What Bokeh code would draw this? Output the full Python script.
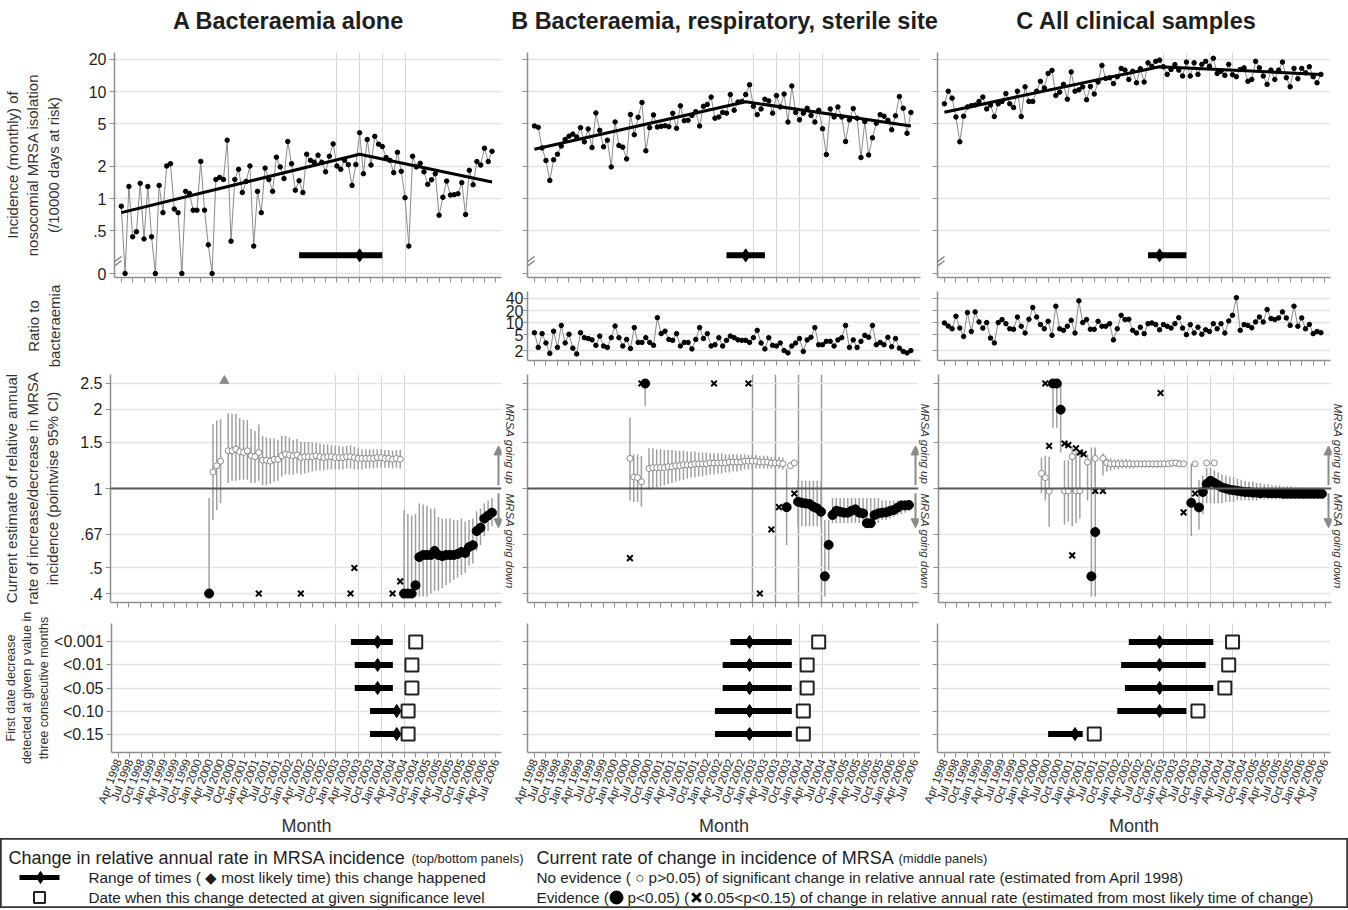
import math
from bokeh.plotting import figure
from bokeh.layouts import column, row
from bokeh.models import FixedTicker, Span, Arrow, NormalHead, Range1d, LinearAxis
from bokeh.embed import file_html
from bokeh.resources import INLINE
from bokeh.core.properties import value

# ---------------------------------------------------------------- data
MONTH_TICKS = list(range(0, 100, 3))
MONTH_LABELS = ["Apr 1998", "Jul 1998", "Oct 1998", "Jan 1999", "Apr 1999", "Jul 1999",
                "Oct 1999", "Jan 2000", "Apr 2000", "Jul 2000", "Oct 2000", "Jan 2001",
                "Apr 2001", "Jul 2001", "Oct 2001", "Jan 2002", "Apr 2002", "Jul 2002",
                "Oct 2002", "Jan 2003", "Apr 2003", "Jul 2003", "Oct 2003", "Jan 2004",
                "Apr 2004", "Jul 2004", "Oct 2004", "Jan 2005", "Apr 2005", "Jul 2005",
                "Oct 2005", "Jan 2006", "Apr 2006", "Jul 2006"]
GRID_MONTHS = [57, 63, 69, 75]
MONTHS = list(range(99))

TITLES = ["A Bacteraemia alone", "B Bacteraemia, respiratory, sterile site", "C All clinical samples"]

INC_A = [0.85, 0, 1.30, 0.44, 0.49, 1.39, 0.42, 1.30, 0.44, 0,
         1.33, 0.74, 2.02, 2.12, 0.80, 0.74, 0, 1.17, 1.12, 0.78,
         0.78, 2.23, 0.78, 0.37, 0, 1.51, 1.58, 1.51, 3.52, 0.40,
         1.51, 1.88, 1.14, 1.45, 2.02, 0.36, 1.17, 0.74, 1.93, 1.51,
         1.17, 2.44, 1.98, 1.54, 3.42, 2.12, 1.20, 1.47, 1.14, 2.60,
         2.28, 2.19, 2.55, 2.19, 1.78, 2.49, 3.25, 2.02, 1.88, 2.28,
         2.08, 1.33, 2.08, 4.13, 1.71, 3.57, 2.06, 3.82, 3.23, 3.07,
         2.42, 2.28, 1.75, 2.71, 1.80, 1.02, 0.36, 2.49, 1.98, 2.14,
         1.78, 1.36, 1.50, 1.71, 0.70, 1.03, 1.46, 1.08, 1.09, 1.11,
         1.41, 0.71, 1.84, 1.35, 2.22, 2.06, 2.96, 2.22, 2.77]
INC_B = [4.78, 4.64, 2.98, 2.27, 1.48, 2.31, 2.60, 3.10, 3.57, 3.84,
         4.01, 3.76, 4.61, 3.40, 4.48, 3.00, 6.33, 4.35, 3.05, 3.52,
         1.98, 5.21, 3.14, 3.03, 2.35, 6.12, 3.96, 5.77, 7.93, 2.80,
         4.61, 6.06, 4.67, 4.74, 4.81, 4.71, 6.28, 4.54, 7.37, 5.36,
         5.40, 6.00, 6.50, 4.78, 7.30, 7.60, 8.90, 5.65, 5.80, 6.40,
         6.30, 9.40, 6.70, 8.00, 8.10, 9.40, 11.6, 7.30, 6.10, 6.90,
         8.50, 8.20, 6.30, 9.20, 7.20, 9.50, 5.20, 11.3, 6.40, 5.45,
         6.30, 7.00, 6.00, 5.20, 6.70, 4.50, 2.58, 6.90, 5.80, 7.20,
         5.80, 3.42, 5.45, 6.95, 5.65, 2.42, 5.25, 2.56, 3.70, 5.07,
         6.10, 5.90, 5.40, 4.40, 5.95, 9.00, 7.00, 4.08, 6.40]
INC_C = [7.7, 10.1, 8.7, 5.8, 3.4, 5.9, 7.2, 7.4, 7.5, 8.1,
         8.9, 6.9, 7.5, 5.85, 7.7, 8.1, 9.6, 7.7, 7.1, 10.1,
         5.85, 11.1, 8.1, 8.1, 10.1, 12.5, 10.8, 14.8, 15.8, 9.2,
         9.9, 11.7, 8.5, 15.3, 10.1, 10.4, 11.1, 8.4, 11.2, 9.5,
         12.3, 17.6, 13.3, 13.5, 11.9, 13.8, 16.5, 15.9, 13.0, 15.5,
         12.1, 16.4, 12.3, 18.6, 17.3, 19.2, 19.7, 17.1, 14.5, 16.1,
         17.9, 15.9, 14.0, 18.9, 14.0, 18.6, 14.5, 18.0, 19.2, 17.3,
         20.5, 14.8, 15.5, 14.2, 18.0, 14.4, 13.8, 16.1, 16.7, 12.5,
         13.0, 19.2, 16.7, 14.0, 11.7, 15.9, 13.0, 15.9, 18.9, 13.5,
         11.1, 16.5, 13.2, 16.5, 15.0, 17.1, 13.8, 12.1, 14.5]

FIT_A_M, FIT_A_V = [0, 63, 98], [0.74, 2.60, 1.43]
FIT_B_M, FIT_B_V = [0, 55, 98], [2.90, 8.05, 4.78]
FIT_C_M, FIT_C_V = [0, 56, 98], [6.43, 17.1, 14.5]
# change-point range (low, most likely, high) in months since Apr 1998
TOPBAR_A = [47, 63, 69]
TOPBAR_B = [50, 55, 60]
TOPBAR_C = [53, 56, 63]

RATIO_B = [5.6, 2.4, 5.3, 3.1, 1.7, 6.1, 2.4, 8.5, 3.1, 5.1,
           2.3, 1.65, 5.6, 4.2, 4.0, 3.7, 2.7, 4.6, 2.6, 2.4,
           4.2, 8.2, 4.2, 2.6, 3.8, 2.25, 7.5, 3.2, 3.2, 4.2,
           3.2, 2.7, 13.3, 5.3, 6.1, 3.8, 3.6, 5.3, 2.6, 3.2,
           3.2, 2.2, 3.8, 7.5, 4.0, 5.3, 2.6, 2.8, 4.2, 2.6,
           3.6, 4.6, 4.2, 3.7, 3.6, 3.6, 3.2, 4.2, 6.4, 3.1,
           2.2, 4.2, 2.7, 2.6, 3.1, 2.0, 1.75, 2.6, 3.1, 4.0,
           1.9, 3.7, 4.3, 7.5, 2.8, 2.8, 3.4, 3.4, 2.6, 3.7,
           4.2, 8.5, 2.4, 3.7, 2.4, 3.4, 4.8, 4.3, 8.5, 2.8,
           3.2, 2.8, 4.3, 2.5, 4.0, 2.3, 1.9, 1.75, 2.0]
RATIO_C = [9.8, 8.2, 7.0, 14.4, 7.3, 4.5, 17.8, 6.0, 18.5, 10.4,
           7.3, 10.0, 4.1, 3.1, 10.0, 11.9, 9.4, 7.0, 6.8, 13.8,
           8.1, 5.5, 12.1, 23.8, 13.8, 8.9, 7.0, 10.8, 4.8, 25.7,
           7.0, 6.4, 8.1, 11.4, 5.5, 35.0, 10.0, 11.9, 6.8, 6.8,
           10.8, 8.1, 8.1, 9.4, 3.7, 7.0, 15.2, 11.9, 12.1, 6.4,
           5.5, 7.7, 5.3, 9.4, 9.8, 8.9, 6.6, 8.9, 8.1, 7.3,
           9.4, 13.3, 7.3, 5.0, 8.9, 5.5, 7.7, 5.1, 6.6, 6.0,
           9.4, 7.0, 9.4, 5.5, 11.0, 15.2, 41.9, 6.4, 8.9, 8.5,
           7.4, 10.4, 13.8, 10.4, 21.2, 12.6, 11.9, 13.1, 18.5, 13.1,
           8.5, 25.7, 8.1, 13.1, 7.0, 9.0, 5.3, 6.0, 5.6]

# ---- middle panels: current estimate of relative annual rate (pointwise 95% CI)
# A
MA_NO_M = [25, 26, 27, 29, 30, 31, 32, 33, 34, 35, 36, 37, 38, 39, 40, 41, 42, 43, 44, 45, 46,
           47, 48, 49, 50, 51, 52, 53, 54, 55, 56, 57, 58, 59, 60, 61, 62, 63, 64, 65, 66, 67,
           68, 69, 70, 71, 72, 73, 74]
MA_NO_V = [1.155, 1.22, 1.27, 1.39, 1.39, 1.41, 1.38, 1.37, 1.39, 1.33, 1.32, 1.37, 1.28, 1.28,
           1.27, 1.29, 1.29, 1.33, 1.35, 1.34, 1.33, 1.34, 1.31, 1.32, 1.32, 1.32, 1.33, 1.32,
           1.31, 1.32, 1.32, 1.31, 1.31, 1.31, 1.32, 1.32, 1.31, 1.30, 1.30, 1.30, 1.30, 1.30,
           1.31, 1.31, 1.30, 1.30, 1.29, 1.30, 1.29]
MA_NO_HI = [1.755, 1.81, 1.83, 1.93, 1.92, 1.92, 1.85, 1.82, 1.82, 1.68, 1.65, 1.75, 1.58, 1.56,
            1.55, 1.55, 1.53, 1.58, 1.58, 1.56, 1.53, 1.54, 1.50, 1.50, 1.50, 1.49, 1.49, 1.48,
            1.47, 1.47, 1.46, 1.45, 1.45, 1.44, 1.45, 1.46, 1.44, 1.42, 1.41, 1.41, 1.41, 1.41,
            1.41, 1.41, 1.40, 1.40, 1.39, 1.40, 1.40]
MA_NO_LO = [0.76, 0.83, 0.88, 1.05, 1.07, 1.07, 1.08, 1.08, 1.08, 1.05, 1.05, 1.07, 1.03, 1.03,
            1.04, 1.06, 1.07, 1.11, 1.13, 1.13, 1.13, 1.14, 1.13, 1.14, 1.15, 1.16, 1.17, 1.17,
            1.17, 1.18, 1.18, 1.18, 1.18, 1.18, 1.19, 1.19, 1.18, 1.18, 1.18, 1.19, 1.19, 1.19,
            1.20, 1.20, 1.20, 1.20, 1.19, 1.20, 1.19]
MA_EV_M = [24, 75, 76, 77, 78, 79, 80, 81, 82, 83, 84, 85, 86, 87, 88, 89, 90, 91, 92, 93, 94,
           95, 96, 97, 98]
MA_EV_V = [0.40, 0.40, 0.40, 0.40, 0.43, 0.55, 0.56, 0.56, 0.56, 0.58, 0.56, 0.555, 0.56, 0.56,
           0.56, 0.565, 0.575, 0.57, 0.60, 0.61, 0.69, 0.71, 0.77, 0.79, 0.81]
MA_EV_LO = [0.39, 0.39, 0.39, 0.39, 0.39, 0.39, 0.39, 0.39, 0.40, 0.41, 0.41, 0.42, 0.43, 0.44,
            0.45, 0.46, 0.47, 0.48, 0.51, 0.52, 0.58, 0.61, 0.66, 0.69, 0.72]
MA_EV_HI = [0.92, 0.83, 0.80, 0.79, 0.80, 0.88, 0.87, 0.86, 0.84, 0.84, 0.78, 0.77, 0.77, 0.77,
            0.76, 0.76, 0.77, 0.75, 0.76, 0.77, 0.82, 0.84, 0.88, 0.90, 0.92]
MA_X_M = [37, 48, 61, 62, 72, 74]
MA_X_V = [0.40, 0.40, 0.40, 0.50, 0.40, 0.445]
MA_OFF_M = [28]
MA_OFF_V = [2.56]
# B
MB_NO_M = [25, 26, 27, 28, 30, 31, 32, 33, 34, 35, 36, 37, 38, 39, 40, 41, 42, 43, 44, 45, 46,
           47, 48, 49, 50, 51, 52, 53, 54, 55, 56, 57, 58, 59, 60, 61, 62, 63, 64, 65, 67, 68]
MB_NO_V = [1.30, 1.106, 1.10, 1.06, 1.19, 1.20, 1.20, 1.20, 1.20, 1.21, 1.21, 1.22, 1.22, 1.23,
           1.23, 1.23, 1.24, 1.24, 1.24, 1.24, 1.25, 1.25, 1.25, 1.25, 1.25, 1.26, 1.26, 1.26,
           1.26, 1.27, 1.27, 1.27, 1.27, 1.26, 1.26, 1.26, 1.25, 1.25, 1.25, 1.24, 1.22, 1.25]
MB_NO_HI = [1.86, 1.35, 1.35, 1.33, 1.42, 1.42, 1.41, 1.41, 1.40, 1.40, 1.40, 1.39, 1.39, 1.39,
            1.38, 1.38, 1.38, 1.37, 1.37, 1.37, 1.36, 1.36, 1.36, 1.36, 1.35, 1.35, 1.35, 1.35,
            1.35, 1.35, 1.34, 1.34, 1.34, 1.33, 1.33, 1.33, 1.32, 1.32, 1.32, 1.31, 1.22, 1.25]
MB_NO_LO = [0.90, 0.89, 0.89, 0.853, 0.99, 1.00, 1.01, 1.02, 1.03, 1.04, 1.05, 1.06, 1.07, 1.08,
            1.09, 1.10, 1.10, 1.11, 1.11, 1.12, 1.13, 1.13, 1.14, 1.14, 1.15, 1.15, 1.16, 1.16,
            1.17, 1.18, 1.18, 1.19, 1.19, 1.19, 1.19, 1.19, 1.19, 1.19, 1.19, 1.18, 1.22, 1.25]
MB_EV_M = [29, 66, 69, 70, 71, 72, 73, 74, 75, 76, 77, 78, 79, 80, 81, 82, 83, 84, 85, 86, 87,
           88, 89, 90, 91, 92, 93, 94, 95, 96, 97, 98]
MB_EV_V = [2.50, 0.85, 0.891, 0.883, 0.878, 0.873, 0.853, 0.841, 0.817, 0.465, 0.612, 0.794,
           0.824, 0.817, 0.810, 0.810, 0.824, 0.834, 0.810, 0.805, 0.739, 0.739, 0.794, 0.805,
           0.810, 0.812, 0.822, 0.829, 0.846, 0.863, 0.863, 0.866]
MB_EV_HI = [2.50, 1.19, 1.07, 1.07, 1.07, 1.07, 1.07, 1.07, 1.07, 0.76, 0.76, 0.92, 0.92, 0.92,
            0.92, 0.92, 0.92, 0.92, 0.92, 0.92, 0.92, 0.92, 0.92, 0.92, 0.90, 0.90, 0.90, 0.90,
            0.90, 0.90, 0.90, 0.90]
MB_EV_LO = [2.06, 0.61, 0.72, 0.72, 0.72, 0.72, 0.72, 0.72, 0.72, 0.39, 0.49, 0.74, 0.74, 0.74,
            0.74, 0.74, 0.74, 0.74, 0.74, 0.74, 0.74, 0.74, 0.74, 0.74, 0.76, 0.76, 0.77, 0.78,
            0.79, 0.80, 0.81, 0.82]
MB_X_M = [25, 28, 47, 56, 59, 62, 64, 68]
MB_X_V = [0.545, 2.50, 2.50, 2.50, 0.40, 0.70, 0.85, 0.957]
# C
MC_NO_M = [25, 26, 27, 31, 32, 33, 34, 35, 37, 39, 41, 42, 43, 44, 45, 46, 47, 48, 49, 50, 51,
           52, 53, 54, 55, 56, 57, 58, 59, 60, 61, 62, 65, 68, 70]
MC_NO_V = [1.14, 1.10, 0.977, 0.98, 0.98, 1.32, 0.98, 0.98, 1.26, 1.30, 1.30, 1.25, 1.24, 1.24,
           1.24, 1.24, 1.24, 1.24, 1.24, 1.24, 1.24, 1.24, 1.24, 1.24, 1.24, 1.24, 1.24, 1.24,
           1.25, 1.25, 1.24, 1.24, 1.24, 1.25, 1.25]
MC_NO_HI = [1.31, 1.33, 1.32, 1.28, 1.28, 1.45, 1.38, 1.40, 1.35, 1.42, 1.36, 1.30, 1.30, 1.29,
            1.29, 1.29, 1.29, 1.29, 1.28, 1.28, 1.28, 1.28, 1.28, 1.28, 1.28, 1.28, 1.28, 1.28,
            1.28, 1.28, 1.28, 1.27, 1.24, 1.25, 1.25]
MC_NO_LO = [0.957, 0.90, 0.717, 0.73, 0.75, 0.72, 0.74, 0.77, 0.90, 1.05, 1.12, 1.16, 1.17, 1.18,
            1.18, 1.19, 1.19, 1.19, 1.19, 1.20, 1.20, 1.20, 1.20, 1.20, 1.20, 1.20, 1.21, 1.21,
            1.21, 1.21, 1.21, 1.21, 1.24, 1.25, 1.25]
MC_EV_M = [28, 29, 30, 38, 39, 64, 66, 67, 68, 69, 70, 71, 72, 73, 74, 75, 76, 77, 78, 79, 80,
           81, 82, 83, 84, 85, 86, 87, 88, 89, 90, 91, 92, 93, 94, 95, 96, 97, 98]
MC_EV_V = [2.50, 2.50, 1.99, 0.465, 0.684, 0.883, 0.848, 0.97, 1.04, 1.07, 1.05, 1.03, 1.01, 1.00,
           0.99, 0.985, 0.98, 0.975, 0.97, 0.97, 0.965, 0.965, 0.96, 0.965, 0.96, 0.96, 0.96,
           0.96, 0.955, 0.955, 0.955, 0.955, 0.955, 0.955, 0.955, 0.955, 0.955, 0.955, 0.955]
MC_EV_HI = [2.50, 2.50, 2.50, 1.43, 1.43, 1.24, 1.08, 1.12, 1.20, 1.20, 1.17, 1.15, 1.13, 1.12,
            1.11, 1.10, 1.09, 1.08, 1.07, 1.06, 1.06, 1.05, 1.05, 1.04, 1.04, 1.03, 1.03, 1.03,
            1.02, 1.02, 1.02, 1.01, 1.01, 1.01, 1.00, 1.00, 1.00, 1.00, 1.00]
MC_EV_LO = [1.70, 1.70, 1.37, 0.39, 0.39, 0.66, 0.70, 0.80, 0.88, 0.88, 0.88, 0.88, 0.88, 0.89,
            0.89, 0.89, 0.90, 0.90, 0.90, 0.90, 0.90, 0.90, 0.91, 0.91, 0.91, 0.91, 0.91, 0.91,
            0.91, 0.92, 0.92, 0.92, 0.92, 0.92, 0.92, 0.92, 0.92, 0.92, 0.92]
MC_X_M = [26, 27, 31, 32, 33, 34, 35, 36, 39, 41, 56, 62, 65]
MC_X_V = [2.50, 1.45, 1.48, 1.46, 0.558, 1.42, 1.37, 1.35, 0.98, 0.98, 2.30, 0.812, 0.957]

# ---- bottom panels: first date decrease detected at given p value
P_LEVELS = ["<0.001", "<0.01", "<0.05", "<0.10", "<0.15"]
BOT_A_LO, BOT_A_ML, BOT_A_HI, BOT_A_DET = [61, 62, 62, 66, 66], [68, 68, 68, 73, 73], [72, 72, 72, 73, 73], [78, 77, 77, 76, 76]
BOT_B_LO, BOT_B_ML, BOT_B_HI, BOT_B_DET = [51, 49, 49, 47, 47], [56, 56, 56, 56, 56], [67, 67, 67, 67, 67], [74, 71, 71, 70, 70]
BOT_C_LO, BOT_C_ML, BOT_C_HI, BOT_C_DET = [48, 46, 47, 45, 27], [56, 56, 56, 56, 34], [70, 68, 70, 63, 36], [75, 74, 73, 66, 39]

TOP_TICK_VALUES = [20, 10, 5, 2, 1, 0.5, 0]
TOP_TICK_LABELS = ["20", "10", "5", "2", "1", ".5", "0"]
RATIO_TICKS = [2, 5, 10, 20, 40]
RATIO_LABELS = ["2", "5", "10", "20", "40"]
MID_TICKS = [0.4, 0.5, 0.67, 1, 1.5, 2, 2.5]
MID_LABELS = [".4", ".5", ".67", "1", "1.5", "2", "2.5"]

# ---------------------------------------------------------------- style
FONT = "Liberation Sans"
TXT = "#1e1e1e"
AXC = "#8e8e8e"
HGRID = "#e4e4e4"
VGRID = "#d6d6d6"
XMIN, XMAX = -1.8, 100.5
FW = 393
PXM = FW / (XMAX - XMIN)
ZERO_POS = -0.70
BAR_Y = -0.53
NB = "\u00a0"
SIDE_TEXT = NB * 5 + "MRSA going up" + NB * 3 + "MRSA going down"


def tr(v):
    return math.log10(v) if v > 0 else ZERO_POS


def hide_labels(ax):
    ax.major_label_text_font_size = "0px"
    ax.major_label_text_color = None
    ax.major_label_standoff = 0


def base_fig(w, h, ml, mr, mt, mb, yr, ytype="linear", xlabels=False, ylabels=True, vgrid=True):
    p = figure(width=w, height=h, x_range=Range1d(XMIN, XMAX), y_range=yr, y_axis_type=ytype,
               output_backend="svg", toolbar_location=None,
               min_border_left=ml, min_border_right=mr, min_border_top=mt, min_border_bottom=mb)
    p.outline_line_color = None
    for ax in p.axis:
        ax.axis_line_color = AXC
        ax.axis_line_width = 1.5
        ax.major_tick_line_color = AXC
        ax.major_tick_line_width = 1
        ax.major_tick_in = 0
        ax.major_tick_out = 5
        ax.minor_tick_line_color = None
        ax.major_label_text_font = FONT
        ax.major_label_text_color = TXT
        ax.major_label_text_font_size = "16px"
        ax.major_label_standoff = 3
        ax.axis_label_text_font = FONT
        ax.axis_label_text_font_style = "normal"
        ax.axis_label_text_color = "#333333"
        ax.axis_label_text_font_size = "15px"
    p.xaxis.ticker = FixedTicker(ticks=MONTH_TICKS)
    if xlabels:
        p.xaxis.major_label_overrides = dict(zip(MONTH_TICKS, MONTH_LABELS))
        p.xaxis.major_label_orientation = 1.2
        p.xaxis.major_label_text_font_size = "11.5px"
        p.xaxis.major_label_standoff = 2
        p.xaxis.axis_label = "Month"
        p.xaxis.axis_label_text_font_size = "18px"
        p.xaxis.axis_label_standoff = 5
    else:
        for ax in p.xaxis:
            hide_labels(ax)
    if not ylabels:
        for ax in p.yaxis:
            hide_labels(ax)
    if vgrid:
        p.xgrid.ticker = FixedTicker(ticks=GRID_MONTHS)
        p.xgrid.grid_line_color = VGRID
    else:
        p.xgrid.visible = False
    p.ygrid.grid_line_color = HGRID
    p.ygrid.grid_line_width = 1.5
    return p


TITLE_H, TOP_H, RAT_H, MID_H, BOT_H, LEG_H = 40, 244, 83, 243, 228, 70
TOP_COLS = [(522, 108, 21), (410, 5, 12), (416, 5, 18)]
RAT_COLS = [(500, 108, 21), (432, 27, 12), (416, 5, 18)]
MID_COLS = [(522, 108, 21), (411, 5, 13), (415, 5, 17)]
BOT_COLS = [(503, 108, 2), (417, 24, 0), (428, 17, 18)]
TITLE_X = [288, 724, 1136]

# title row: one strip across the full width
tfig = figure(width=1348, height=TITLE_H, x_range=Range1d(0, 1348), y_range=Range1d(0, TITLE_H),
              output_backend="svg", toolbar_location=None, x_axis_location=None,
              y_axis_location=None, min_border=0)
tfig.outline_line_color = None
tfig.grid.visible = False
tfig.text(x=TITLE_X, y=[20, 20, 20], text=TITLES, text_align="center",
          text_baseline="middle", text_font=value(FONT), text_font_style="bold",
          text_font_size="23.5px", text_color=TXT)

INC = [INC_A, INC_B, INC_C]
FITS = [(FIT_A_M, FIT_A_V), (FIT_B_M, FIT_B_V), (FIT_C_M, FIT_C_V)]
TOPBARS = [TOPBAR_A, TOPBAR_B, TOPBAR_C]

top_figs = []
for i in range(3):
    w, ml, mr = TOP_COLS[i]
    p = base_fig(w, TOP_H, ml, mr, 12, 7, Range1d(-0.737, 1.366), ylabels=(i == 0))
    p.yaxis.ticker = FixedTicker(ticks=[tr(v) for v in TOP_TICK_VALUES])
    p.yaxis.major_label_overrides = {tr(v): s for v, s in zip(TOP_TICK_VALUES, TOP_TICK_LABELS)}
    if i == 0:
        p.yaxis.axis_label = "Incidence (monthly) of\nnosocomial MRSA isolation\n(/10000 days at risk)"
        p.yaxis.axis_label_standoff = 24
    ty = [tr(v) for v in INC[i]]
    p.line(MONTHS, ty, line_color="#8a8a8a", line_width=1)
    p.scatter(MONTHS, ty, size=4.5, color="black")
    fm, fv = FITS[i]
    p.line(fm, [tr(v) for v in fv], line_color="black", line_width=3)
    lo, mlk, hi = TOPBARS[i]
    p.segment(x0=[lo], y0=[BAR_Y], x1=[hi], y1=[BAR_Y], line_color="black", line_width=6)
    p.scatter(x=[mlk], y=[BAR_Y], marker="diamond", size=13, color="black")
    # axis-break marks
    bx1 = XMIN + 7.0 / PXM
    p.segment(x0=[XMIN, XMIN], y0=[-0.59, -0.63], x1=[bx1, bx1], y1=[-0.54, -0.58],
              line_color="#777777", line_width=1.2)
    top_figs.append(p)

# ratio row
ratio_figs = []
pa = figure(width=RAT_COLS[0][0], height=RAT_H, x_range=Range1d(0, 1), y_range=Range1d(0, 1),
            output_backend="svg", toolbar_location=None, x_axis_location=None,
            min_border_left=108, min_border_right=21, min_border_top=7, min_border_bottom=7)
pa.outline_line_color = None
pa.grid.visible = False
pa.yaxis.ticker = FixedTicker(ticks=[])
pa.yaxis.axis_line_color = None
pa.yaxis.major_tick_line_color = None
pa.yaxis.minor_tick_line_color = None
pa.yaxis.major_tick_out = 0
hide_labels(pa.yaxis[0])
pa.yaxis.axis_label = "Ratio to\nbacteraemia"
pa.yaxis.axis_label_text_font = FONT
pa.yaxis.axis_label_text_font_style = "normal"
pa.yaxis.axis_label_text_color = "#333333"
pa.yaxis.axis_label_text_font_size = "15px"
pa.yaxis.axis_label_standoff = 46
ratio_figs.append(pa)
for i, data in [(1, RATIO_B), (2, RATIO_C)]:
    w, ml, mr = RAT_COLS[i]
    p = base_fig(w, RAT_H, ml, mr, 7, 7, Range1d(1.13, 59.8), ytype="log",
                 ylabels=(i == 1), vgrid=False)
    p.yaxis.ticker = FixedTicker(ticks=RATIO_TICKS)
    if i == 1:
        p.yaxis.major_label_overrides = dict(zip(RATIO_TICKS, RATIO_LABELS))
        p.yaxis.major_label_standoff = 0
        p.yaxis.major_tick_out = 4
    p.line(MONTHS, data, line_color="#8a8a8a", line_width=1)
    p.scatter(MONTHS, data, size=4.5, color="black")
    ratio_figs.append(p)

# middle row
MID = [
    (MA_NO_M, MA_NO_V, MA_NO_LO, MA_NO_HI, MA_EV_M, MA_EV_V, MA_EV_LO, MA_EV_HI, MA_X_M, MA_X_V),
    (MB_NO_M, MB_NO_V, MB_NO_LO, MB_NO_HI, MB_EV_M, MB_EV_V, MB_EV_LO, MB_EV_HI, MB_X_M, MB_X_V),
    (MC_NO_M, MC_NO_V, MC_NO_LO, MC_NO_HI, MC_EV_M, MC_EV_V, MC_EV_LO, MC_EV_HI, MC_X_M, MC_X_V),
]
SIDE_STANDOFF = [2, 0, 0]
mid_figs = []
for i in range(3):
    w, ml, mr = MID_COLS[i]
    p = base_fig(w, MID_H, ml, mr, 7, 8, Range1d(0.370, 2.704), ytype="log", ylabels=(i == 0))
    p.yaxis.ticker = FixedTicker(ticks=MID_TICKS)
    if i == 0:
        p.yaxis.major_label_overrides = dict(zip(MID_TICKS, MID_LABELS))
        p.yaxis.axis_label = ("Current estimate of relative annual\n"
                              "rate of increase/decrease in MRSA\n"
                              "incidence (pointwise 95% CI)")
        p.yaxis.axis_label_standoff = 16
    if i == 1:
        p.xgrid.grid_line_color = "#9a9a9a"
        p.xgrid.grid_line_width = 1.5
    side = LinearAxis(ticker=FixedTicker(ticks=[]), axis_line_color=None,
                      major_tick_line_color=None, minor_tick_line_color=None,
                      major_tick_out=0, major_tick_in=0,
                      axis_label=SIDE_TEXT, axis_label_standoff=SIDE_STANDOFF[i],
                      axis_label_text_font=FONT, axis_label_text_font_size="11.5px",
                      axis_label_text_font_style="italic", axis_label_text_color="#333333")
    hide_labels(side)
    p.add_layout(side, "right")
    p.add_layout(Span(location=1, dimension="width", line_color="#5a5a5a", line_width=2))
    nm, nv, nlo, nhi, em, ev, elo, ehi, xm, xv = MID[i]
    p.segment(x0=nm, y0=nlo, x1=nm, y1=nhi, line_color="#a0a0a0", line_width=1.5)
    p.segment(x0=em, y0=elo, x1=em, y1=ehi, line_color="#a0a0a0", line_width=1.5)
    p.scatter(nm, nv, marker="circle", size=6, fill_color="white", line_color="#8a8a8a", line_width=1)
    p.scatter(em, ev, marker="circle", size=9, color="black")
    p.scatter(xm, xv, marker="x", size=8, line_color="black", line_width=2)
    if i == 0:
        p.scatter(MA_OFF_M, MA_OFF_V, marker="triangle", size=9, color="#8a8a8a")
    ax_x = XMAX - 3.0 / PXM
    p.add_layout(Arrow(end=NormalHead(size=9, fill_color="#8a8a8a", line_color="#8a8a8a"),
                       x_start=ax_x, y_start=1.03, x_end=ax_x, y_end=1.45,
                       line_color="#8a8a8a", line_width=2))
    p.add_layout(Arrow(end=NormalHead(size=9, fill_color="#8a8a8a", line_color="#8a8a8a"),
                       x_start=ax_x, y_start=0.96, x_end=ax_x, y_end=0.71,
                       line_color="#8a8a8a", line_width=2))
    mid_figs.append(p)

# bottom row
ROWS = [5, 4, 3, 2, 1]
BOT = [(BOT_A_LO, BOT_A_ML, BOT_A_HI, BOT_A_DET), (BOT_B_LO, BOT_B_ML, BOT_B_HI, BOT_B_DET),
       (BOT_C_LO, BOT_C_ML, BOT_C_HI, BOT_C_DET)]
bot_figs = []
for i in range(3):
    w, ml, mr = BOT_COLS[i]
    p = base_fig(w, BOT_H, ml, mr, 13, 80, Range1d(0.2, 5.8), xlabels=True, ylabels=(i == 0))
    p.yaxis.ticker = FixedTicker(ticks=ROWS)
    if i == 0:
        p.yaxis.major_label_overrides = dict(zip(ROWS, P_LEVELS))
        p.yaxis.axis_label = "First date decrease\ndetected at given p value in\nthree consecutive months"
        p.yaxis.axis_label_text_font_size = "12.5px"
        p.yaxis.axis_label_standoff = 0
    lo, mlk, hi, det = BOT[i]
    p.segment(x0=lo, y0=ROWS, x1=hi, y1=ROWS, line_color="black", line_width=6)
    p.scatter(mlk, ROWS, marker="diamond", size=13, color="black")
    p.scatter(det, ROWS, marker="square", size=13, fill_color="white", line_color="#222222",
              line_width=2)
    bot_figs.append(p)

# legend box
leg = figure(width=1348, height=LEG_H, x_range=Range1d(0, 1348), y_range=Range1d(0, LEG_H),
             output_backend="svg", toolbar_location=None, x_axis_location=None,
             y_axis_location=None, min_border=0)
leg.grid.visible = False
leg.outline_line_color = "#333333"
leg.outline_line_width = 2.5
leg.segment(x0=[19], y0=[31], x1=[59], y1=[31], line_color="black", line_width=5)
leg.scatter([40], [31], marker="diamond", size=12, color="black")
leg.scatter([39], [11], marker="square", size=11, fill_color="white", line_color="#222222", line_width=2)
leg.scatter([616], [11], marker="circle", size=13, color="black")
leg.scatter([696], [11], marker="x", size=12, line_color="black", line_width=3)
head = dict(text_font=value(FONT), text_color=TXT, text_baseline="middle", text_font_size="18px")
small = dict(text_font=value(FONT), text_color=TXT, text_baseline="middle", text_font_size="13px")
body = dict(text_font=value(FONT), text_color=TXT, text_baseline="middle", text_font_size="15.3px")
leg.text(x=[8, 536], y=[51, 51],
         text=["Change in relative annual rate in MRSA incidence",
               "Current rate of change in incidence of MRSA"], **head)
leg.text(x=[411, 898], y=[50, 50], text=["(top/bottom panels)", "(middle panels)"], **small)
leg.text(x=[88, 536, 88, 536, 627, 704], y=[31, 31, 11, 11, 11, 11],
         text=["Range of times ( \u25c6 most likely time) this change happened",
               "No evidence ( \u25cb p>0.05) of significant change in relative annual rate (estimated from April 1998)",
               "Date when this change detected at given significance level",
               "Evidence (",
               "p<0.05) (",
               "0.05<p<0.15) of change in relative annual rate (estimated from most likely time of change)"],
         **body)

layout = column(tfig, row(*top_figs), row(*ratio_figs), row(*mid_figs), row(*bot_figs), leg)
open("out.html", "w").write(file_html(layout, INLINE))
